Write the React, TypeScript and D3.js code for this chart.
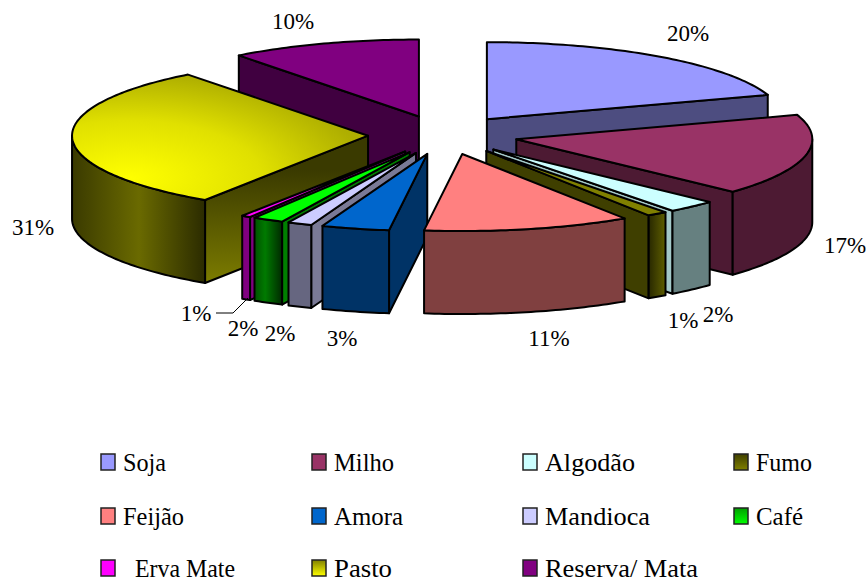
import React from "react";
import * as d3 from "d3";

const categories = ["Soja", "Milho", "Algodão", "Fumo", "Feijão", "Amora", "Mandioca", "Café", "Erva Mate", "Pasto", "Reserva/ Mata"];
const shares = [19.89, 17.06, 2.7, 1.11, 11.3, 3.7, 1.33, 1.69, 0.5, 30.31, 10.41];
const labels = ["20%", "17%", "2%", "1%", "11%", "3%", "2%", "2%", "1%", "31%", "10%"];
const topFills = ["#9999ff", "#993366", "#ccffff", "#808000", "#ff8080", "#0066cc", "#ccccff", "#00ff00", "#ff00ff", "url(#pastoTop)", "#800080"];
const wallFills = ["#4d4d80", "#4d1a33", "#668080", "url(#fumoWall)", "#804040", "#003366", "#666680", "url(#cafeWall)", "#800080", "url(#pastoWall)", "#400040"];
const sideFills = ["#4d4d80", "#4d1a33", "#a3c8c8", "#3f3f00", "#804040", "#003366", "#7a7a96", "#008000", "#800080", "url(#pastoSide)", "#400040"];
const labelX = [688, 845, 718, 683, 549, 342, 280, 243, 196, 33, 293];
const labelY = [33, 245, 314, 320, 338, 338, 333, 328, 313, 227, 21];
const legendCols = [101, 312, 523, 734];
const legendRows = [462, 516, 568];
const legendSwatch = ["#9999ff", "#993366", "#ccffff", "url(#lgFumo)", "#ff8080", "#0066cc", "#ccccff", "url(#lgCafe)", "#ff00ff", "url(#lgPasto)", "#800080"];
const legendTextWidths = [43, 60, 90, 56, 61, 69, 105, 47, 100, 58, 153];

const CX = 443, CY = 135, RX = 296, RY = 77, DEPTH = 83, EXPLODE = 75, FRONT_SHIFT = 2.5;
const sx = d3.scaleLinear().domain([-1, 1]).range([CX - RX, CX + RX]);
const sy = d3.scaleLinear().domain([-1, 1]).range([CY - RY, CY + RY]);
const line = d3.line<[number, number]>().x((d) => d[0]).y((d) => d[1]);

type Slice = { i: number; a0: number; a1: number; mid: number };
const slices: Slice[] = d3
  .pie<number>()
  .sort(null)
  .value((d) => d)(shares)
  .map((p, i) => ({ i, a0: p.startAngle, a1: p.endAngle, mid: (p.startAngle + p.endAngle) / 2 }));

const DEG = Math.PI / 180;
const off = (s: Slice) => {
  const e = EXPLODE / RX;
  const shift = s.mid > 160 * DEG && s.mid < 215 * DEG ? FRONT_SHIFT / RX : 0;
  return [e * Math.sin(s.mid) + shift, -e * Math.cos(s.mid)];
};
const rim = (s: Slice, a: number, z = 0): [number, number] => {
  const o = off(s);
  return [sx(o[0] + Math.sin(a)), sy(o[1] - Math.cos(a)) + z];
};
const apex = (s: Slice, z = 0): [number, number] => {
  const o = off(s);
  return [sx(o[0]), sy(o[1]) + z];
};
const arc = (s: Slice, a0: number, a1: number, z = 0) => {
  const n = Math.max(2, Math.ceil(((a1 - a0) * 180) / Math.PI));
  return d3.range(n + 1).map((k) => rim(s, a0 + ((a1 - a0) * k) / n, z));
};
const order = [...slices].sort((a, b) => -Math.cos(a.mid) - -Math.cos(b.mid));
const HP = Math.PI / 2;

function SliceMark({ s }: { s: Slice }) {
  const st = { stroke: "#000", strokeWidth: 2, strokeLinejoin: "round" as const };
  const parts: React.ReactNode[] = [];
  const startVisible = -Math.cos(s.a0 - HP) > 0.001;
  const endVisible = -Math.cos(s.a1 + HP) > 0.001;
  if (startVisible) {
    const pts = [apex(s), rim(s, s.a0), rim(s, s.a0, DEPTH), apex(s, DEPTH)];
    parts.push(<path key="w0" d={line(pts) + "Z"} fill={sideFills[s.i]} {...st} />);
  }
  if (endVisible) {
    const pts = [apex(s), rim(s, s.a1), rim(s, s.a1, DEPTH), apex(s, DEPTH)];
    parts.push(<path key="w1" d={line(pts) + "Z"} fill={sideFills[s.i]} {...st} />);
  }
  const w0 = Math.max(s.a0, HP), w1 = Math.min(s.a1, 3 * HP);
  if (w1 > w0) {
    const pts = [...arc(s, w0, w1), ...arc(s, w0, w1, DEPTH).reverse()];
    parts.push(<path key="wo" d={line(pts) + "Z"} fill={wallFills[s.i]} {...st} />);
  }
  const top = [apex(s), ...arc(s, s.a0, s.a1)];
  parts.push(<path key="t" d={line(top) + "Z"} fill={topFills[s.i]} {...st} />);
  return <g>{parts}</g>;
}

const serif = "'Liberation Serif', 'Times New Roman', serif";

export default function App() {
  return (
    <svg width={868} height={583} style={{ position: "absolute", left: 0, top: 0, background: "#fff" }}>
      <defs>
        <radialGradient id="pastoTop" gradientUnits="userSpaceOnUse" cx={0} cy={0} r={1} gradientTransform="translate(130,178) scale(240,105)">
          <stop offset="0" stopColor="#ffff00" />
          <stop offset="0.55" stopColor="#e0e000" />
          <stop offset="1" stopColor="#aeae00" />
        </radialGradient>
        <linearGradient id="pastoWall" gradientUnits="userSpaceOnUse" x1={72} x2={206} y1={0} y2={0}>
          <stop offset="0" stopColor="#3a3a00" />
          <stop offset="0.5" stopColor="#6a6a00" />
          <stop offset="0.75" stopColor="#4a4a00" />
          <stop offset="1" stopColor="#2a2a00" />
        </linearGradient>
        <linearGradient id="pastoSide" gradientUnits="userSpaceOnUse" x1={0} x2={0} y1={170} y2={290}>
          <stop offset="0" stopColor="#3a3a00" />
          <stop offset="1" stopColor="#808000" />
        </linearGradient>
        <linearGradient id="fumoWall" gradientUnits="userSpaceOnUse" x1={648} x2={665} y1={0} y2={0}>
          <stop offset="0" stopColor="#262600" />
          <stop offset="1" stopColor="#5c5c00" />
        </linearGradient>
        <linearGradient id="cafeWall" gradientUnits="userSpaceOnUse" x1={254} x2={282} y1={0} y2={0}>
          <stop offset="0" stopColor="#005000" />
          <stop offset="0.4" stopColor="#007a00" />
          <stop offset="1" stopColor="#002a00" />
        </linearGradient>
        <linearGradient id="lgFumo" x1={0} x2={0} y1={0} y2={1}>
          <stop offset="0" stopColor="#404000" />
          <stop offset="1" stopColor="#808000" />
        </linearGradient>
        <linearGradient id="lgCafe" x1={0} x2={0} y1={0} y2={1}>
          <stop offset="0" stopColor="#00a000" />
          <stop offset="1" stopColor="#00ff00" />
        </linearGradient>
        <linearGradient id="lgPasto" x1={0} x2={0} y1={0} y2={1}>
          <stop offset="0" stopColor="#808000" />
          <stop offset="1" stopColor="#ffff00" />
        </linearGradient>
      </defs>
      {order.map((s) => (
        <SliceMark key={s.i} s={s} />
      ))}
      <path d={line([[216, 313], [233, 313], [248, 298]])!} fill="none" stroke="#000" strokeWidth={1} />
      {labels.map((t, i) => (
        <text key={t + i} x={labelX[i]} y={labelY[i]} textAnchor="middle" dominantBaseline="central" fontFamily={serif} fontSize={23} fill="#000">
          {t}
        </text>
      ))}
      {categories.map((c, i) => {
        const col = i % 4, row = Math.floor(i / 4);
        const x = legendCols[col], y = legendRows[row];
        return (
          <g key={c}>
            <rect x={x} y={y - 8} width={14} height={16} fill={legendSwatch[i]} stroke="#222" strokeWidth={1.5} />
            <text
              x={x + (c === "Erva Mate" ? 34 : 22)}
              y={y}
              dominantBaseline="central"
              fontFamily={serif}
              fontSize={25}
              fill="#000"
              textLength={legendTextWidths[i]}
              lengthAdjust="spacingAndGlyphs"
            >
              {c}
            </text>
          </g>
        );
      })}
    </svg>
  );
}
